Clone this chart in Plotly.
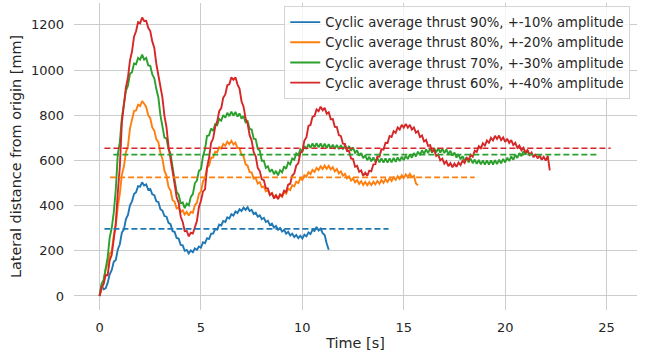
import plotly.graph_objects as go

# ---------------- data (sampled every 0.1 s) ----------------
sample_step = 0.1

blue_90 = [0, 46, 30, 34, 58, 96, 114, 151, 159, 206, 229, 281, 294, 341, 359, 401, 419, 451, 459, 486,
           484, 503, 489, 494, 470, 474, 450, 446, 419, 416, 384, 378, 354, 351, 324, 318, 287, 284, 257, 254,
           226, 224, 200, 204, 188, 202, 194, 211, 204, 219, 214, 238, 234, 256, 252, 276, 276, 296, 294, 316,
           312, 332, 328, 348, 343, 362, 356, 374, 367, 384, 376, 391, 381, 393, 376, 381, 363, 369, 351, 357,
           340, 346, 328, 333, 314, 320, 303, 310, 293, 301, 285, 293, 276, 284, 268, 276, 261, 270, 256, 267,
           255, 271, 264, 281, 274, 293, 288, 306, 290, 298, 278, 270, 232, 205]

orange_80 = [0, 37, 63, 117, 143, 187, 198, 267, 313, 397, 453, 537, 573, 637, 663, 742, 783, 819, 821, 847,
             841, 863, 851, 837, 800, 787, 746, 732, 693, 682, 633, 607, 555, 532, 483, 467, 425, 417, 388, 392,
             371, 379, 361, 372, 356, 373, 368, 402, 413, 452, 463, 507, 523, 567, 578, 612, 613, 639, 636, 659,
             653, 673, 665, 683, 672, 687, 671, 679, 655, 655, 625, 619, 583, 577, 548, 547, 520, 522, 498, 504,
             481, 485, 463, 469, 448, 455, 436, 446, 430, 447, 439, 460, 453, 475, 469, 491, 485, 506, 500, 521,
             514, 535, 528, 548, 539, 558, 549, 567, 557, 574, 562, 577, 563, 576, 560, 570, 552, 562, 543, 552,
             533, 541, 521, 530, 511, 521, 503, 513, 496, 508, 492, 505, 490, 504, 491, 506, 494, 509, 497, 513,
             501, 517, 505, 521, 509, 525, 514, 530, 518, 534, 522, 538, 526, 541, 526, 532, 498, 490]

green_70 = [0, 54, 71, 129, 171, 259, 301, 369, 471, 629, 681, 789, 841, 909, 931, 984, 991, 1029, 1026, 1054,
            1046, 1069, 1046, 1054, 1021, 1019, 981, 964, 916, 879, 801, 754, 701, 697, 651, 629, 561, 514, 461, 449,
            411, 414, 389, 409, 401, 439, 451, 499, 511, 554, 561, 619, 651, 709, 711, 741, 731, 761, 756, 784,
            776, 801, 789, 811, 796, 816, 798, 815, 794, 808, 785, 797, 769, 774, 739, 737, 696, 694, 651, 644,
            599, 599, 567, 574, 549, 561, 539, 554, 534, 557, 547, 574, 563, 591, 583, 609, 603, 631, 623, 649,
            639, 664, 651, 672, 656, 675, 658, 676, 658, 675, 657, 674, 655, 672, 653, 670, 651, 669, 650, 668,
            649, 666, 647, 664, 643, 657, 634, 645, 621, 633, 610, 623, 601, 616, 596, 613, 594, 611, 592, 609,
            591, 609, 591, 609, 592, 611, 594, 613, 597, 617, 601, 621, 606, 627, 612, 633, 618, 639, 624, 645,
            629, 649, 633, 652, 635, 654, 636, 654, 635, 652, 633, 649, 628, 643, 621, 635, 613, 627, 605, 619,
            598, 613, 592, 608, 588, 604, 585, 602, 583, 600, 582, 600, 582, 600, 582, 601, 584, 603, 587, 607,
            591, 612, 597, 618, 603, 625, 611, 633, 619, 641, 626, 645, 625]

red_60 = [0, 38, 52, 93, 92, 158, 182, 248, 322, 458, 572, 768, 842, 923, 967, 1043, 1082, 1148, 1172, 1213,
          1207, 1233, 1217, 1218, 1187, 1173, 1127, 1098, 1027, 978, 912, 878, 797, 748, 662, 613, 547, 498, 437, 413,
          352, 328, 287, 288, 264, 280, 277, 308, 332, 393, 422, 463, 472, 568, 612, 678, 697, 748, 772, 818,
          832, 878, 892, 933, 937, 968, 957, 968, 937, 918, 862, 838, 787, 763, 712, 688, 637, 618, 567, 553,
          517, 513, 477, 476, 447, 455, 432, 445, 429, 450, 442, 466, 460, 493, 497, 533, 542, 578, 587, 633,
          642, 688, 702, 753, 757, 793, 797, 826, 818, 838, 822, 833, 807, 813, 782, 783, 749, 748, 712, 708,
          674, 673, 642, 643, 609, 606, 572, 576, 550, 556, 532, 546, 532, 555, 552, 583, 584, 618, 617, 650,
          648, 678, 677, 708, 704, 730, 722, 746, 737, 758, 745, 762, 745, 758, 737, 746, 723, 730, 704, 710,
          684, 691, 664, 668, 640, 646, 620, 626, 600, 608, 586, 596, 575, 588, 570, 586, 572, 591, 579, 599,
          589, 611, 602, 625, 616, 643, 638, 663, 654, 676, 666, 688, 678, 700, 689, 709, 695, 710, 690, 702,
          682, 696, 678, 690, 668, 678, 656, 666, 645, 656, 636, 646, 624, 635, 614, 628, 609, 622, 603, 616,
          599, 620, 556]

series_names = ["Cyclic average thrust 90%, +-10% amplitude",
                "Cyclic average thrust 80%, +-20% amplitude",
                "Cyclic average thrust 70%, +-30% amplitude",
                "Cyclic average thrust 60%, +-40% amplitude"]
series_values = [blue_90, orange_80, green_70, red_60]

avg_values = [297, 525, 626, 654]
avg_start = [0.24, 0.52, 0.68, 0.24]
avg_end = [14.25, 18.5, 24.5, 25.2]

colors = ["#1f77b4", "#ff7f0e", "#2ca02c", "#d62728"]

x_ticks = [0, 5, 10, 15, 20, 25]
y_ticks = [0, 200, 400, 600, 800, 1000, 1200]

# ---------------- figure ----------------
fig = go.Figure()
for name, vals, col in zip(series_names, series_values, colors):
    t = [round(i * sample_step, 2) for i in range(len(vals))]
    fig.add_trace(go.Scatter(x=t, y=vals, mode="lines", name=name,
                             line=dict(color=col, width=1.9)))
for avg, s, e, col in zip(avg_values, avg_start, avg_end, colors):
    fig.add_trace(go.Scatter(x=[s, e], y=[avg, avg], mode="lines", showlegend=False,
                             line=dict(color=col, width=1.7, dash="6px,3px")))

font_color = "#262626"
fig.update_layout(
    width=648, height=358,
    margin=dict(l=74, r=11, t=3, b=48),
    paper_bgcolor="white", plot_bgcolor="white",
    font=dict(family="DejaVu Sans", color=font_color, size=13),
    showlegend=True,
    legend=dict(x=0.988, y=0.99, xanchor="right", yanchor="top",
                bgcolor="rgba(255,255,255,0.8)", bordercolor="#d5d5d5", borderwidth=1,
                font=dict(size=13.2, color=font_color), tracegroupgap=0,
                itemwidth=30),
    xaxis=dict(range=[-1.26, 26.5], tickvals=x_ticks, showgrid=True, gridcolor="#cccccc",
               gridwidth=1, zeroline=False, showline=False, ticks="",
               ticklabelstandoff=8, tickfont=dict(size=13),
               title=dict(text="Time [s]", font=dict(size=14.4), standoff=3)),
    yaxis=dict(range=[-62, 1297], tickvals=y_ticks, showgrid=True, gridcolor="#cccccc",
               gridwidth=1, zeroline=False, showline=False, ticks="",
               ticklabelstandoff=9, tickfont=dict(size=13),
               title=dict(text="Lateral distance from origin [mm]", font=dict(size=14.4), standoff=5)),
)

fig.write_html("out.html")
